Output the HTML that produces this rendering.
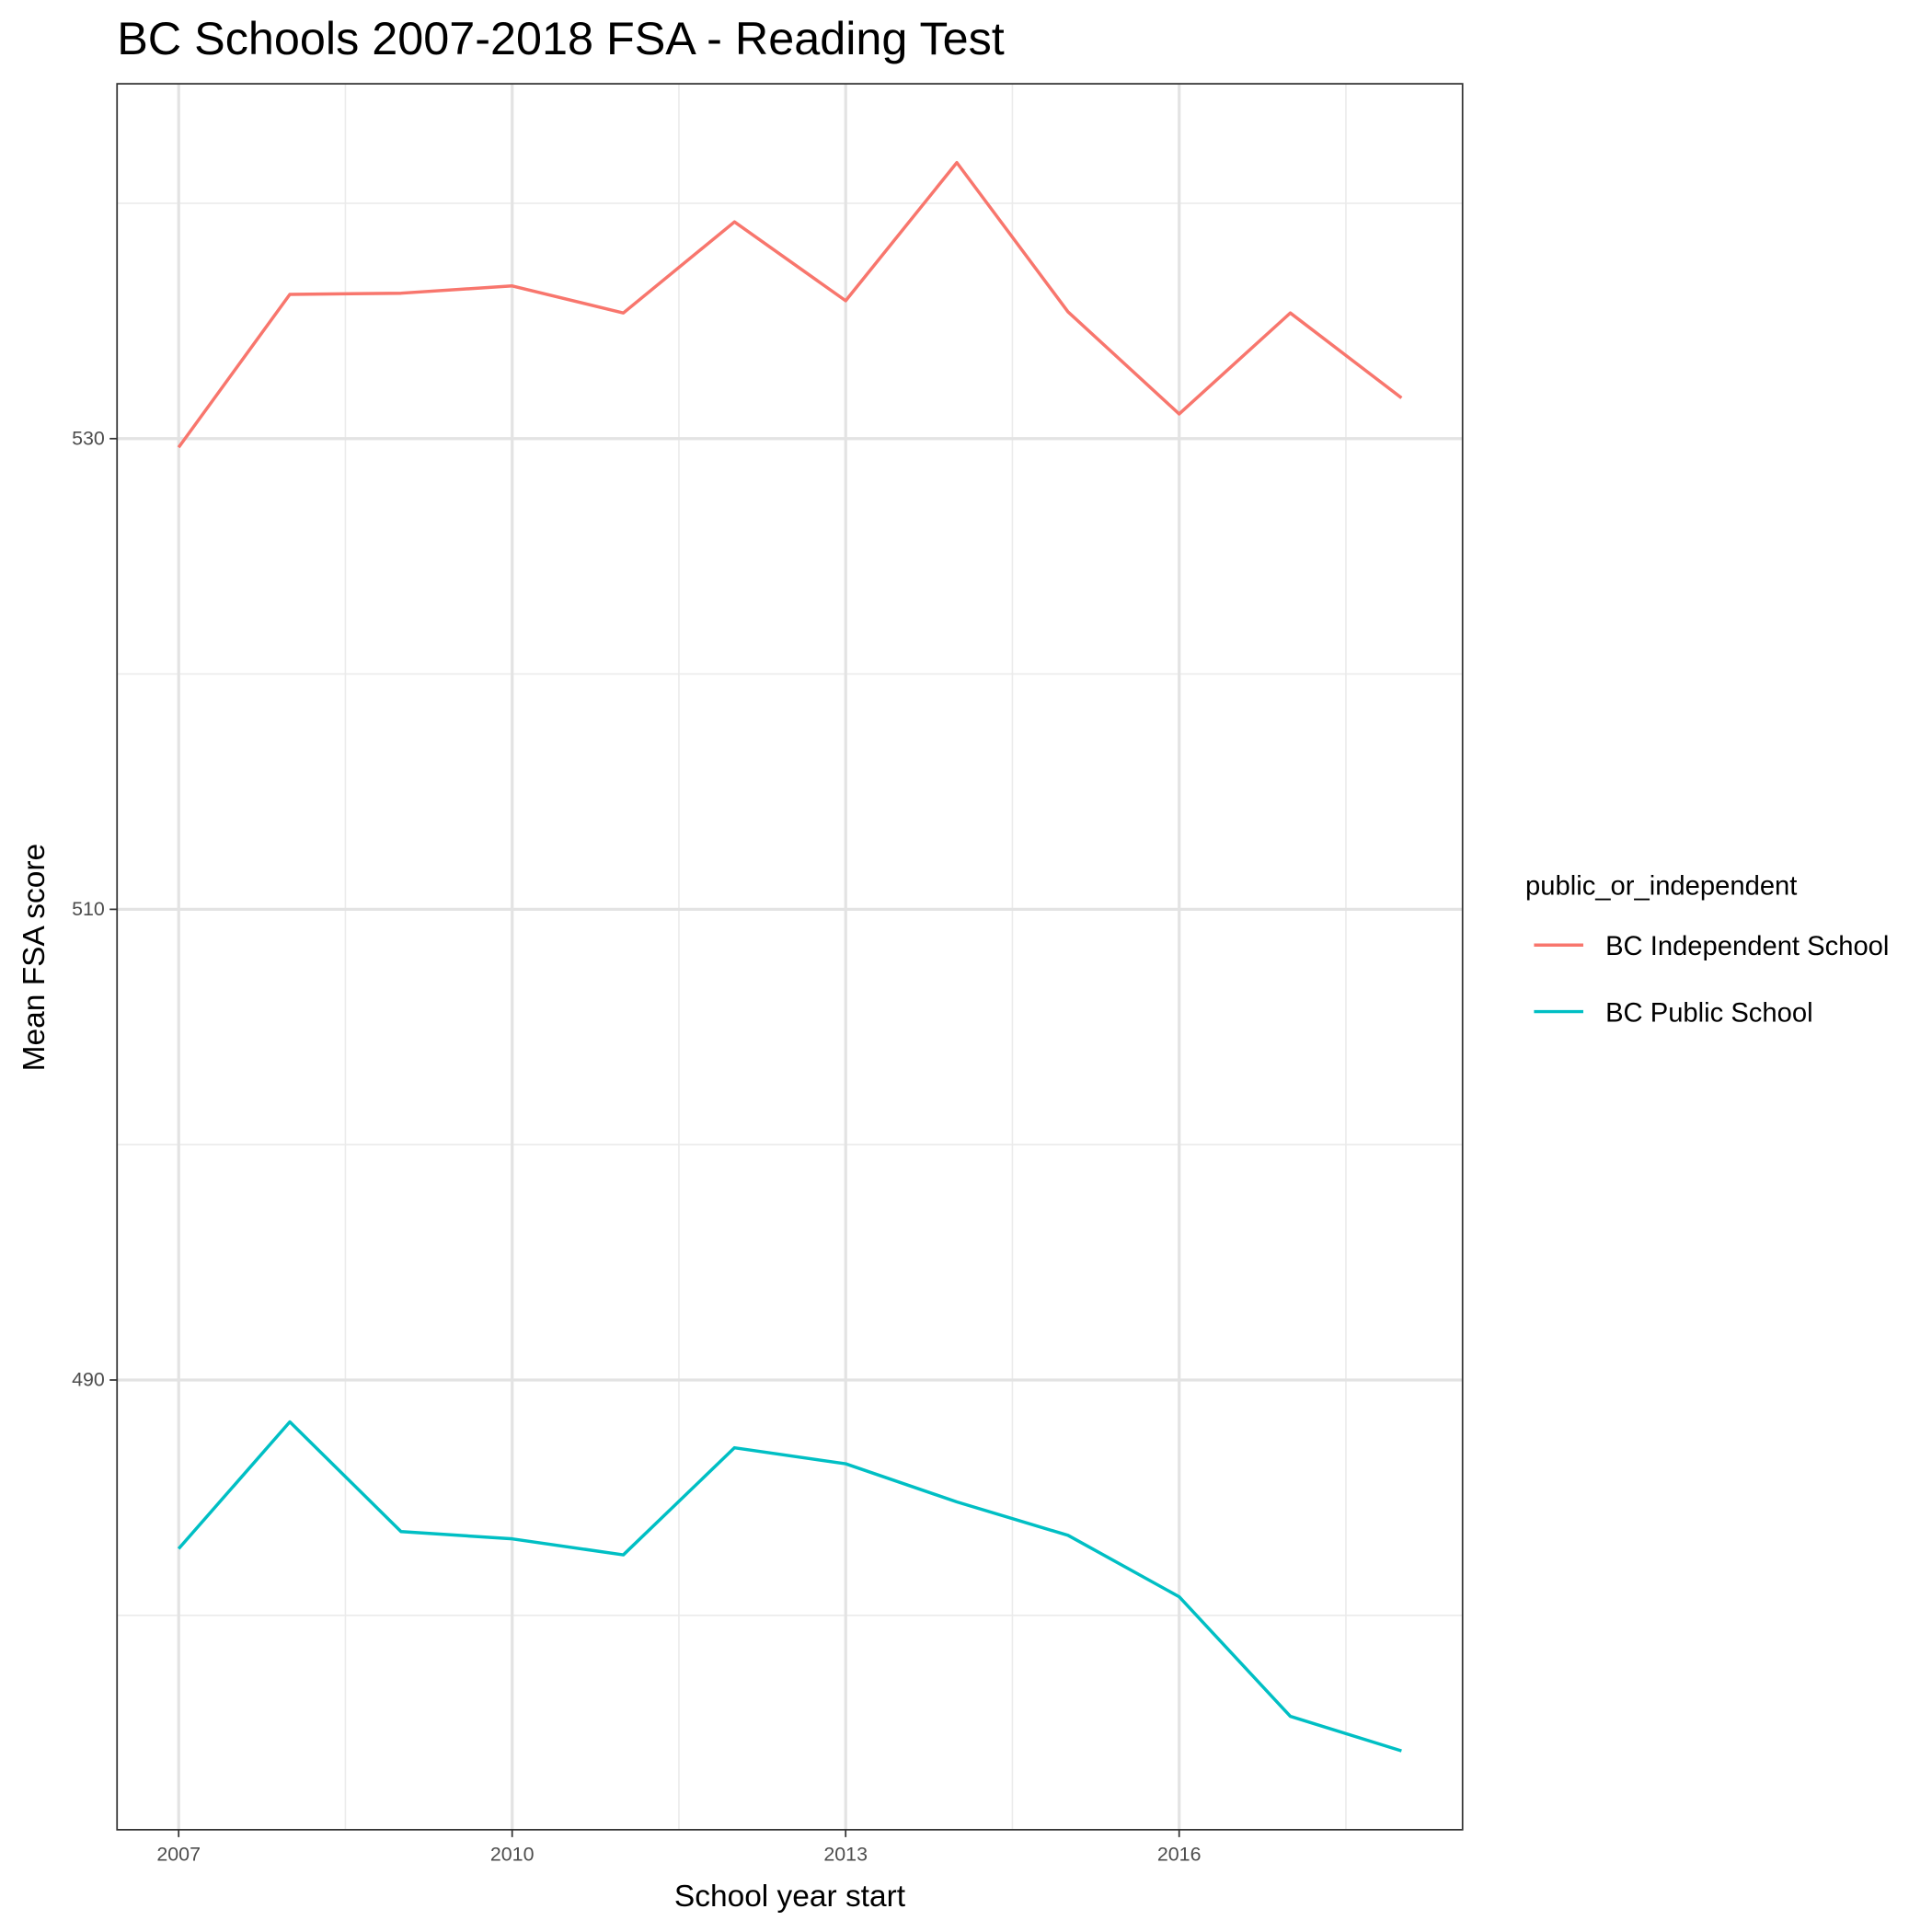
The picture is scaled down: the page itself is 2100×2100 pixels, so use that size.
<!DOCTYPE html>
<html><head><meta charset="utf-8"><style>
html,body{margin:0;padding:0;background:#fff;}
svg{display:block;font-family:"Liberation Sans",Arial,sans-serif;}
</style></head><body>
<svg id="chart" width="2100" height="2100" viewBox="0 0 1568 1568" xmlns="http://www.w3.org/2000/svg">
<rect width="1568" height="1568" fill="#fff"/>
<text x="95" y="44" font-size="37.6" fill="#000">BC Schools 2007-2018 FSA - Reading Test</text>
<g id="grid"></g>
<g id="series"></g>
<rect x="95" y="68" width="1092" height="1417" fill="none" stroke="#333" stroke-width="1.3"/>
<g id="axes"></g>
<text x="641" y="1547" font-size="25" text-anchor="middle">School year start</text>
<text transform="translate(36,777) rotate(-90)" font-size="25" text-anchor="middle">Mean FSA score</text>
<g>
<text x="1238" y="726" font-size="21.8">public_or_independent</text>
<g>
<line x1="1245" y1="767" x2="1285" y2="767" stroke="#F8766D" stroke-width="2.6"/>
<text x="1303" y="775" font-size="21.8">BC Independent School</text></g>
<g>
<line x1="1245" y1="821" x2="1285" y2="821" stroke="#00BFC4" stroke-width="2.6"/>
<text x="1303" y="829" font-size="21.8">BC Public School</text></g>
</g>
</svg>
<script>
const years=[2007,2008,2009,2010,2011,2012,2013,2014,2015,2016,2017,2018];
const independent=[529.63,536.13,536.18,536.49,535.34,539.21,535.86,541.73,535.39,531.05,535.34,531.73];
const publicSch=[482.83,488.22,483.56,483.25,482.57,487.12,486.44,484.82,483.40,480.79,475.71,474.24];
const xTicks=[2007,2010,2013,2016];
const xMinor=[2008.5,2011.5,2014.5,2017.5];
const yTicks=[490,510,530];
const yMinor=[480,500,520,540];
const NS="http://www.w3.org/2000/svg";
function xs(v){return 145+(v-2007)*(957-145)/9;}
function ys(v){return 356-(v-530)*(1120-356)/40;}
function mk(t,a,p){const e=document.createElementNS(NS,t);for(const k in a)e.setAttribute(k,a[k]);p.appendChild(e);return e;}
const g=document.getElementById('grid'),ax=document.getElementById('axes'),s=document.getElementById('series');
yMinor.forEach(v=>{const l=mk('line',{x1:95,x2:1187,y1:ys(v),y2:ys(v),stroke:'#ebebeb','stroke-width':1.2},g);

});
xMinor.forEach(v=>{const l=mk('line',{x1:xs(v),x2:xs(v),y1:68,y2:1485,stroke:'#ebebeb','stroke-width':1.2},g);

});
yTicks.forEach(v=>{const l=mk('line',{x1:95,x2:1187,y1:ys(v),y2:ys(v),stroke:'#e3e3e3','stroke-width':2.4},g);


const t=mk('line',{x1:89,x2:95,y1:ys(v),y2:ys(v),stroke:'#333','stroke-width':1.3},ax);


const tx=mk('text',{x:85,y:ys(v)+5,'font-size':16,'text-anchor':'end',fill:'#4d4d4d'},ax);tx.textContent=v;

});
xTicks.forEach(v=>{const l=mk('line',{x1:xs(v),x2:xs(v),y1:68,y2:1485,stroke:'#e3e3e3','stroke-width':2.4},g);


const t=mk('line',{x1:xs(v),x2:xs(v),y1:1485,y2:1491,stroke:'#333','stroke-width':1.3},ax);


const tx=mk('text',{x:xs(v),y:1510,'font-size':16,'text-anchor':'middle',fill:'#4d4d4d'},ax);tx.textContent=v;

});
function line(vals,col,name){const p=mk('polyline',{points:vals.map((v,i)=>xs(years[i])+','+ys(v)).join(' '),fill:'none',stroke:col,'stroke-width':2.6,'stroke-linejoin':'round'},s);

}
line(independent,'#F8766D','line-independent');
line(publicSch,'#00BFC4','line-public');
</script>
</body></html>
